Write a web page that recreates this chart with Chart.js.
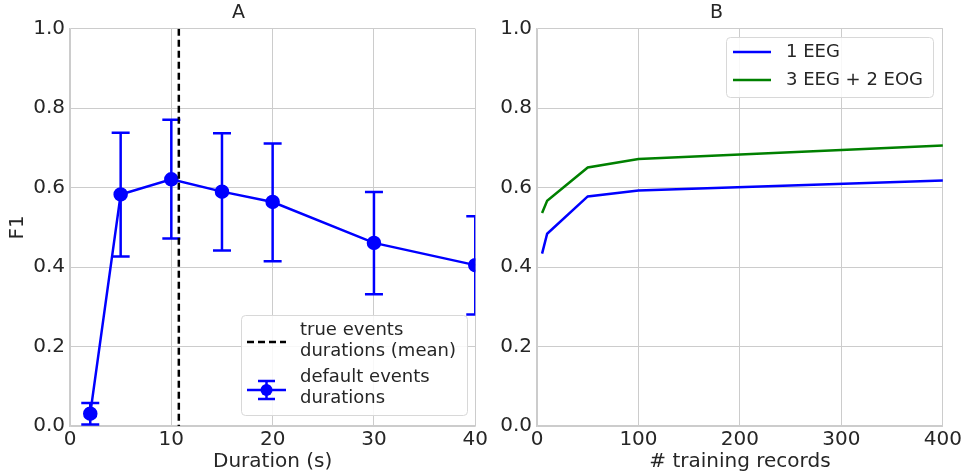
<!DOCTYPE html>
<html>
<head>
<meta charset="utf-8">
<script src="https://cdn.jsdelivr.net/npm/chart.js@4"></script>
<style>
  body { margin: 0; background: #fff; }
  #wrap { position: relative; width: 964px; height: 475px; }
  .box { position: absolute; top: 0; height: 475px; }
  #boxA { left: 0; width: 490px; }
  #boxB { left: 490px; width: 474px; }
</style>
</head>
<body>
<div id="wrap">
  <div class="box" id="boxA"><canvas id="chartA"></canvas></div>
  <div class="box" id="boxB"><canvas id="chartB"></canvas></div>
</div>
<script>
// panel A: F1 vs default event duration
const durations = [2, 5, 10, 15, 20, 30, 40];
const f1Mean = [0.031, 0.583, 0.621, 0.590, 0.564, 0.461, 0.405];
const f1Upper = [0.058, 0.738, 0.771, 0.737, 0.711, 0.589, 0.528];
const f1Lower = [0.004, 0.427, 0.472, 0.442, 0.415, 0.332, 0.281];
const trueMeanDuration = 10.74;

// panel B: F1 vs number of training records
const trainingRecords = [5, 10, 50, 100, 400];
const f1OneEeg = [0.434, 0.484, 0.578, 0.593, 0.618];
const f1EegEog = [0.536, 0.567, 0.651, 0.672, 0.706];

const yTicks = [0, 0.2, 0.4, 0.6, 0.8, 1.0];

const FONT = 'DejaVu Sans';
const TXT = '#262626';
const GRID = '#cccccc';

Chart.defaults.font.family = FONT;
Chart.defaults.color = TXT;

function toXY(xs, ys) {
    return xs.map((x, i) => ({ x: x, y: ys[i] }));
}

function yAxis(width, withTitle) {
    return {
        type: 'linear', min: 0, max: 1,
        afterBuildTicks: axis => { axis.ticks = yTicks.map(v => ({ value: v })); },
        afterFit: axis => { axis.width = width; },
        ticks: { font: { size: 20 }, padding: 5, callback: v => v.toFixed(1) },
        grid: { color: GRID, lineWidth: 1, drawTicks: false },
        border: { color: GRID, width: 1.5 },
        title: withTitle ? { display: true, text: 'F1', font: { size: 20 }, padding: { top: 6 } } : { display: false }
    };
}

function xAxis(max, step, label) {
    return {
        type: 'linear', min: 0, max: max,
        afterFit: axis => { axis.height = 49; },
        ticks: { font: { size: 20 }, padding: 2, stepSize: step },
        grid: { color: GRID, lineWidth: 1, drawTicks: false },
        border: { color: GRID, width: 1.5 },
        title: { display: true, text: label, font: { size: 20 }, padding: { top: 0, bottom: 1 } }
    };
}

function titleOpts(text) {
    return { display: true, text: text, font: { size: 19, weight: 'normal' }, color: TXT, padding: { top: 2, bottom: 4 } };
}

function roundRect(ctx, x, y, w, h, r) {
    ctx.beginPath();
    ctx.moveTo(x + r, y);
    ctx.arcTo(x + w, y, x + w, y + h, r);
    ctx.arcTo(x + w, y + h, x, y + h, r);
    ctx.arcTo(x, y + h, x, y, r);
    ctx.arcTo(x, y, x + w, y, r);
    ctx.closePath();
}

// error bars and mean-duration line for panel A
const errorBarPlugin = {
    id: 'errorBars',
    afterDatasetsDraw(chart) {
        const ctx = chart.ctx;
        const xs = chart.scales.x, ys = chart.scales.y;
        const area = chart.chartArea;
        ctx.save();
        ctx.beginPath();
        ctx.rect(area.left, area.top, area.right - area.left, area.bottom - area.top);
        ctx.clip();
        ctx.strokeStyle = '#0000ff';
        ctx.lineWidth = 2.5;
        durations.forEach((d, i) => {
            const px = xs.getPixelForValue(d);
            const top = ys.getPixelForValue(f1Upper[i]);
            const bot = ys.getPixelForValue(f1Lower[i]);
            ctx.beginPath();
            ctx.moveTo(px, top); ctx.lineTo(px, bot);
            ctx.moveTo(px - 9, top); ctx.lineTo(px + 9, top);
            ctx.moveTo(px - 9, bot); ctx.lineTo(px + 9, bot);
            ctx.stroke();
        });
        // true mean duration
        const vx = xs.getPixelForValue(trueMeanDuration);
        ctx.strokeStyle = '#000';
        ctx.setLineDash([7, 4]);
        ctx.beginPath();
        ctx.moveTo(vx, area.top); ctx.lineTo(vx, area.bottom);
        ctx.stroke();
        ctx.restore();

        // legend
        ctx.save();
        roundRect(ctx, 241.5, 315.5, 226, 100, 4);
        ctx.fillStyle = 'rgba(255,255,255,0.85)';
        ctx.fill();
        ctx.strokeStyle = '#d8d8d8';
        ctx.lineWidth = 1;
        ctx.stroke();

        ctx.strokeStyle = '#000';
        ctx.lineWidth = 2.5;
        ctx.setLineDash([7, 4]);
        ctx.beginPath();
        ctx.moveTo(247, 342); ctx.lineTo(286, 342);
        ctx.stroke();
        ctx.setLineDash([]);

        ctx.strokeStyle = '#0000ff';
        ctx.fillStyle = '#0000ff';
        ctx.beginPath();
        ctx.moveTo(247, 390); ctx.lineTo(286, 390);
        ctx.moveTo(266.5, 381); ctx.lineTo(266.5, 399);
        ctx.moveTo(258, 381); ctx.lineTo(275, 381);
        ctx.moveTo(258, 399); ctx.lineTo(275, 399);
        ctx.stroke();
        ctx.beginPath();
        ctx.arc(266.5, 390, 6, 0, Math.PI * 2);
        ctx.fill();

        ctx.fillStyle = TXT;
        ctx.font = '18px ' + FONT;
        ctx.textBaseline = 'middle';
        ctx.fillText('true events', 300, 330);
        ctx.fillText('durations (mean)', 300, 351);
        ctx.fillText('default events', 300, 377);
        ctx.fillText('durations', 300, 398);
        ctx.restore();
    }
};

const legendBPlugin = {
    id: 'legendB',
    afterDatasetsDraw(chart) {
        const ctx = chart.ctx;
        ctx.save();
        roundRect(ctx, 236.5, 37.5, 207, 60, 4);
        ctx.fillStyle = 'rgba(255,255,255,0.85)';
        ctx.fill();
        ctx.strokeStyle = '#d8d8d8';
        ctx.lineWidth = 1;
        ctx.stroke();
        const items = [['1 EEG', '#0000ff', 52], ['3 EEG + 2 EOG', '#008000', 80]];
        ctx.font = '18px ' + FONT;
        ctx.textBaseline = 'middle';
        items.forEach(([label, color, y]) => {
            ctx.strokeStyle = color;
            ctx.lineWidth = 2.5;
            ctx.beginPath();
            ctx.moveTo(243, y); ctx.lineTo(281, y);
            ctx.stroke();
            ctx.fillStyle = TXT;
            ctx.fillText(label, 296, y);
        });
        ctx.restore();
    }
};

new Chart(document.getElementById('chartA'), {
    type: 'scatter',
    data: {
        datasets: [{
            label: 'default events durations',
            data: toXY(durations, f1Mean),
            showLine: true,
            borderColor: '#0000ff',
            backgroundColor: '#0000ff',
            borderWidth: 2.5,
            pointRadius: 6,
            pointHoverRadius: 6
        }]
    },
    options: {
        responsive: true,
        maintainAspectRatio: false,
        animation: false,
        events: [],
        layout: { padding: { left: 0, right: 13, top: 0, bottom: 0 } },
        plugins: { legend: { display: false }, tooltip: { enabled: false }, title: titleOpts('A') },
        scales: { x: xAxis(40, 10, 'Duration (s)'), y: yAxis(70, true) }
    },
    plugins: [errorBarPlugin]
});

new Chart(document.getElementById('chartB'), {
    type: 'scatter',
    data: {
        datasets: [{
            label: '1 EEG',
            data: toXY(trainingRecords, f1OneEeg),
            showLine: true,
            borderColor: '#0000ff',
            borderWidth: 2.5,
            pointRadius: 0
        }, {
            label: '3 EEG + 2 EOG',
            data: toXY(trainingRecords, f1EegEog),
            showLine: true,
            borderColor: '#008000',
            borderWidth: 2.5,
            pointRadius: 0
        }]
    },
    options: {
        responsive: true,
        maintainAspectRatio: false,
        animation: false,
        events: [],
        layout: { padding: { left: 0, right: 21, top: 0, bottom: 0 } },
        plugins: { legend: { display: false }, tooltip: { enabled: false }, title: titleOpts('B') },
        scales: { x: xAxis(400, 100, '# training records'), y: yAxis(47, false) }
    },
    plugins: [legendBPlugin]
});
</script>
</body>
</html>
